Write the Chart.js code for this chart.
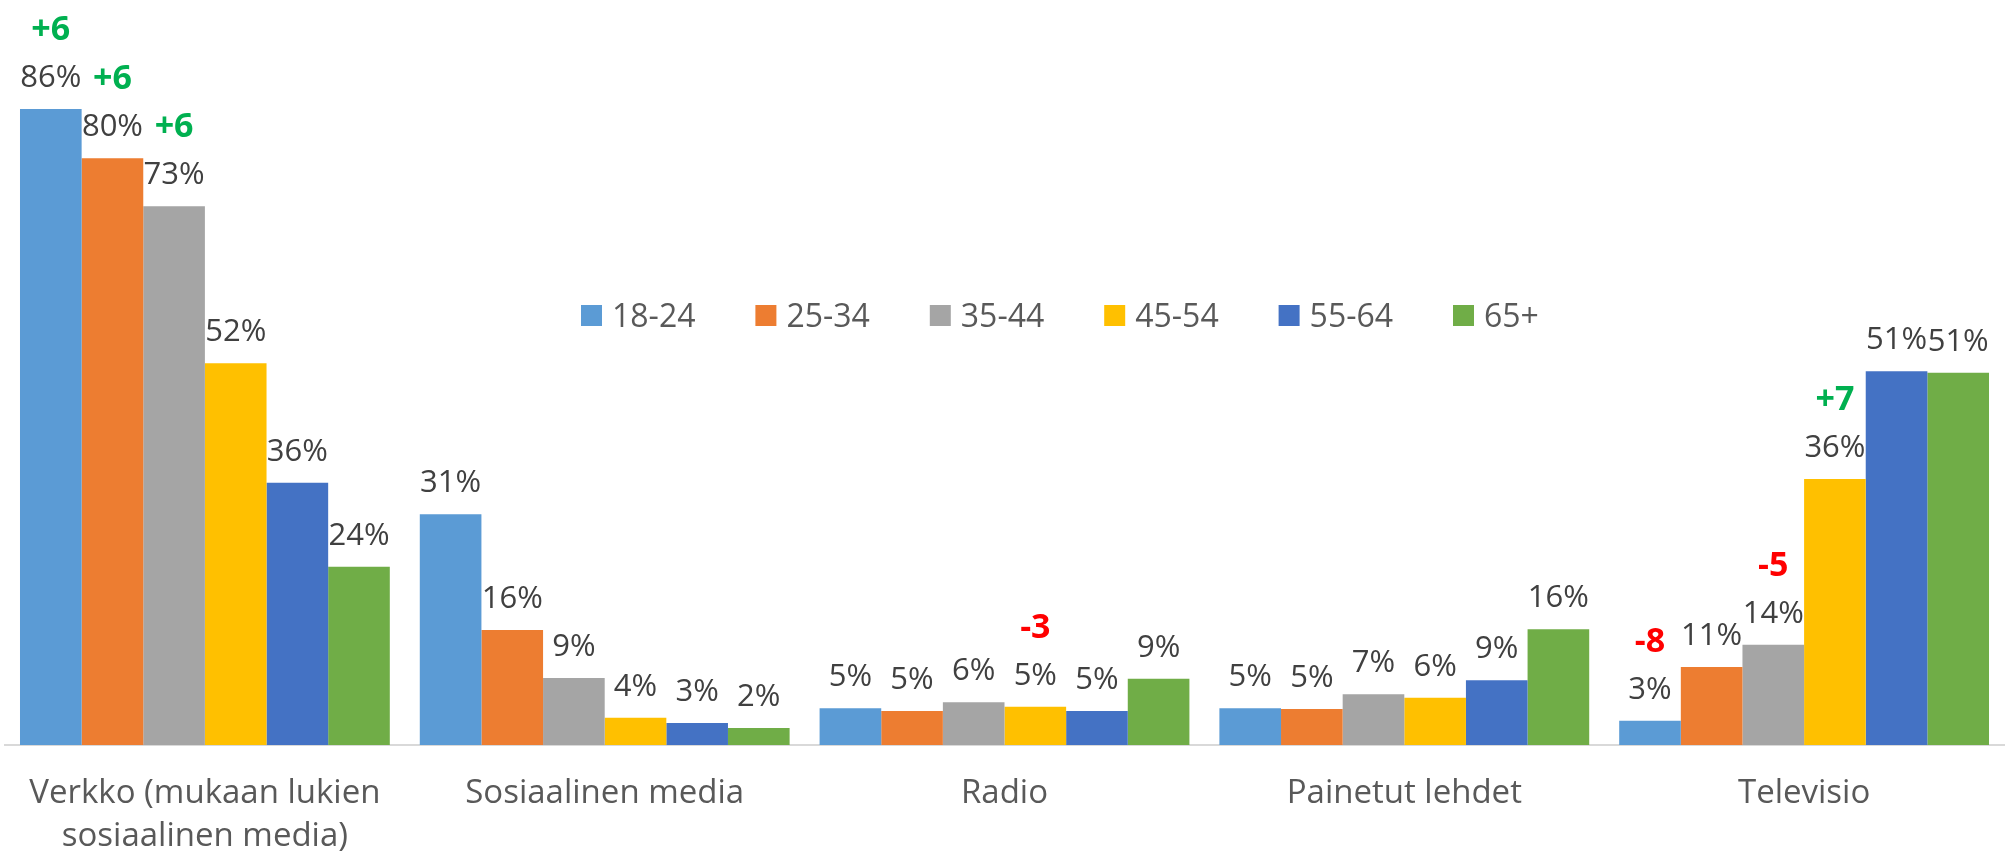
<!DOCTYPE html>
<html lang="fi">
<head>
    <meta charset="UTF-8">
    <title>Mediat ikäryhmittäin</title>
    <script src="https://cdn.jsdelivr.net/npm/chart.js"></script>
    <style>
        html, body { margin: 0; padding: 0; background: #fff; }
    </style>
</head>
<body>
    <canvas id="chart" width="2005" height="855"></canvas>
    <script>
        const categories = [['Verkko (mukaan lukien', 'sosiaalinen media)'], 'Sosiaalinen media', 'Radio', 'Painetut lehdet', 'Televisio'];
        const ageGroups = ['18-24', '25-34', '35-44', '45-54', '55-64', '65+'];

        // osuus (%) ikäryhmittäin, järjestys kuten categories
        const age18_24 = [86.3, 31.3, 5.0, 5.0, 3.3];
        const age25_34 = [79.6, 15.6, 4.6, 4.9, 10.6];
        const age35_44 = [73.1, 9.1, 5.8, 6.9, 13.6];
        const age45_54 = [51.8, 3.7, 5.2, 6.4, 36.1];
        const age55_64 = [35.6, 3.0, 4.6, 8.8, 50.7];
        const age65plus = [24.2, 2.3, 9.0, 15.7, 50.5];

        // muutos edellisestä (prosenttiyksikköä), null = ei merkintää
        const change18_24 = [6, null, null, null, -8];
        const change25_34 = [6, null, null, null, null];
        const change35_44 = [6, null, null, null, -5];
        const change45_54 = [null, null, -3, null, 7];
        const change55_64 = [null, null, null, null, null];
        const change65plus = [null, null, null, null, null];

        const colors = ['#5B9BD5', '#ED7D31', '#A5A5A5', '#FFC000', '#4472C4', '#70AD47'];
        const values = [age18_24, age25_34, age35_44, age45_54, age55_64, age65plus];
        const changes = [change18_24, change25_34, change35_44, change45_54, change55_64, change65plus];

        const valueLabels = {
            id: 'valueLabels',
            afterDatasetsDraw(chart) {
                const ctx = chart.ctx;
                ctx.save();
                ctx.textAlign = 'center';
                ctx.textBaseline = 'alphabetic';
                chart.data.datasets.forEach((ds, i) => {
                    const meta = chart.getDatasetMeta(i);
                    meta.data.forEach((bar, j) => {
                        ctx.font = '31px "Open Sans"';
                        ctx.fillStyle = '#404040';
                        ctx.fillText(Math.round(ds.data[j]) + '%', bar.x, bar.y - 22);
                        const d = changes[i][j];
                        if (d !== null) {
                            ctx.font = 'bold 34px "Open Sans"';
                            ctx.fillStyle = d > 0 ? '#00B050' : '#FF0000';
                            ctx.fillText((d > 0 ? '+' : '') + d, bar.x, bar.y - 69);
                        }
                    });
                });
                ctx.restore();
            }
        };

        // selite keskellä kuvaa
        const midLegend = {
            id: 'midLegend',
            afterDraw(chart) {
                const ctx = chart.ctx;
                ctx.save();
                ctx.font = '32px "Open Sans"';
                ctx.textBaseline = 'alphabetic';
                ctx.textAlign = 'left';
                chart.data.datasets.forEach((ds, i) => {
                    const x = 581 + i * 174.4;
                    ctx.fillStyle = ds.backgroundColor;
                    ctx.fillRect(x, 305, 21, 21);
                    ctx.fillStyle = '#595959';
                    ctx.fillText(ds.label, x + 31, 327);
                });
                ctx.restore();
            }
        };

        new Chart(document.getElementById('chart'), {
            type: 'bar',
            data: {
                labels: categories,
                datasets: ageGroups.map((g, i) => ({
                    label: g,
                    data: values[i],
                    backgroundColor: colors[i],
                    categoryPercentage: 0.925,
                    barPercentage: 1.0
                }))
            },
            options: {
                responsive: false,
                animation: false,
                layout: { padding: { top: 8, left: 5, right: 1, bottom: 0 } },
                plugins: {
                    legend: { display: false },
                    tooltip: { enabled: false }
                },
                scales: {
                    x: {
                        grid: { display: false, drawTicks: false },
                        border: { display: true, color: '#d9d9d9', width: 2 },
                        ticks: {
                            color: '#595959',
                            font: { family: 'Open Sans', size: 33, lineHeight: 1.3 },
                            padding: 27,
                            maxRotation: 0,
                            autoSkip: false
                        },
                        afterFit(scale) { scale.height = 110; }
                    },
                    y: { display: false, min: 0, max: 100 }
                }
            },
            plugins: [valueLabels, midLegend]
        });
    </script>
</body>
</html>
